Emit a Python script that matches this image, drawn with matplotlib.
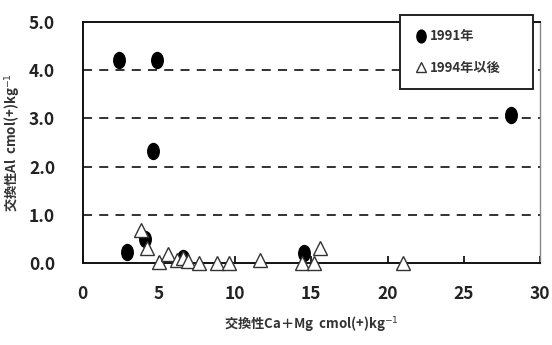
import numpy as np
import matplotlib
matplotlib.use('Agg')
import matplotlib.pyplot as plt
from matplotlib.path import Path

plt.rcParams['font.family'] = ['Noto Sans CJK JP', 'DejaVu Sans']

# 1991年 (filled circles)
x_1991 = [2.4, 4.9, 4.6, 28.1, 2.9, 4.1, 6.6, 14.5]
y_1991 = [4.22, 4.22, 2.33, 3.07, 0.22, 0.5, 0.1, 0.2]

# 1994年以後 (open triangles)
x_1994 = [3.8, 4.2, 5.0, 5.6, 6.2, 6.6, 6.9, 7.6, 8.8, 9.6, 11.6, 14.4, 15.2, 15.6, 21.0]
y_1994 = [0.68, 0.3, 0.02, 0.18, 0.05, 0.1, 0.04, 0.0, 0.0, 0.0, 0.06, 0.0, 0.0, 0.3, 0.0]

xticks = [0, 5, 10, 15, 20, 25, 30]
yticks = [0.0, 1.0, 2.0, 3.0, 4.0, 5.0]

# tall ellipse marker
uc = Path.unit_circle()
ellipse = Path(uc.vertices * np.array([0.72, 1.0]), uc.codes)

fig = plt.figure(figsize=(5.52, 3.45), dpi=100)
ax = fig.add_axes([0.150, 0.238, 0.828, 0.698])

for yv in [1.0, 2.0, 3.0, 4.0]:
    ax.axhline(yv, color='#222222', lw=1.3, ls=(0, (5, 4)), zorder=1)

ax.plot(x_1991, y_1991, ls='none', marker=ellipse, ms=11.5, color='black',
        zorder=3, clip_on=False, label='1991年')
ax.plot(x_1994, y_1994, ls='none', marker='^', ms=9.5, mfc='white',
        mec='#333333', mew=1.0, zorder=4, clip_on=False, label='1994年以後')

ax.set_xlim(0, 30)
ax.set_ylim(0, 5)
ax.set_xticks(xticks)
ax.set_yticks(yticks)
ax.set_yticklabels([f'{v:.1f}' for v in yticks])
ax.tick_params(axis='both', direction='in', length=5, width=1.2, labelsize=12.5,
               labelcolor='#222222')
ax.tick_params(axis='x', pad=16)
ax.tick_params(axis='y', length=0, pad=20)
for lab in ax.get_xticklabels() + ax.get_yticklabels():
    lab.set_fontweight('bold')

for side in ['left', 'bottom', 'top']:
    ax.spines[side].set_linewidth(1.4)
    ax.spines[side].set_color('#111111')
ax.spines['right'].set_linewidth(1.0)
ax.spines['right'].set_color('#888888')

ax.set_xlabel('交換性Ca＋Mg  cmol(+)kg$^{-1}$', fontsize=9.5, fontweight='bold',
              color='#333333', labelpad=8)
ax.set_ylabel('交換性Al  cmol(+)kg$^{-1}$', fontsize=9.5, fontweight='bold',
              color='#333333', labelpad=6)

leg = ax.legend(loc='upper left', bbox_to_anchor=(0.694, 0.74, 0.291, 0.29),
                mode='expand', frameon=True, fancybox=False,
                edgecolor='#222222', framealpha=1.0,
                handletextpad=0.2, handlelength=1.0, borderpad=1.1,
                borderaxespad=0.0, markerscale=0.8,
                labelspacing=1.3, prop={'weight': 'bold', 'size': 9.5})
leg.get_frame().set_linewidth(1.4)
leg.set_zorder(5)
for t in leg.get_texts():
    t.set_color('#333333')

fig.savefig('out.png', dpi=100, facecolor='white')
